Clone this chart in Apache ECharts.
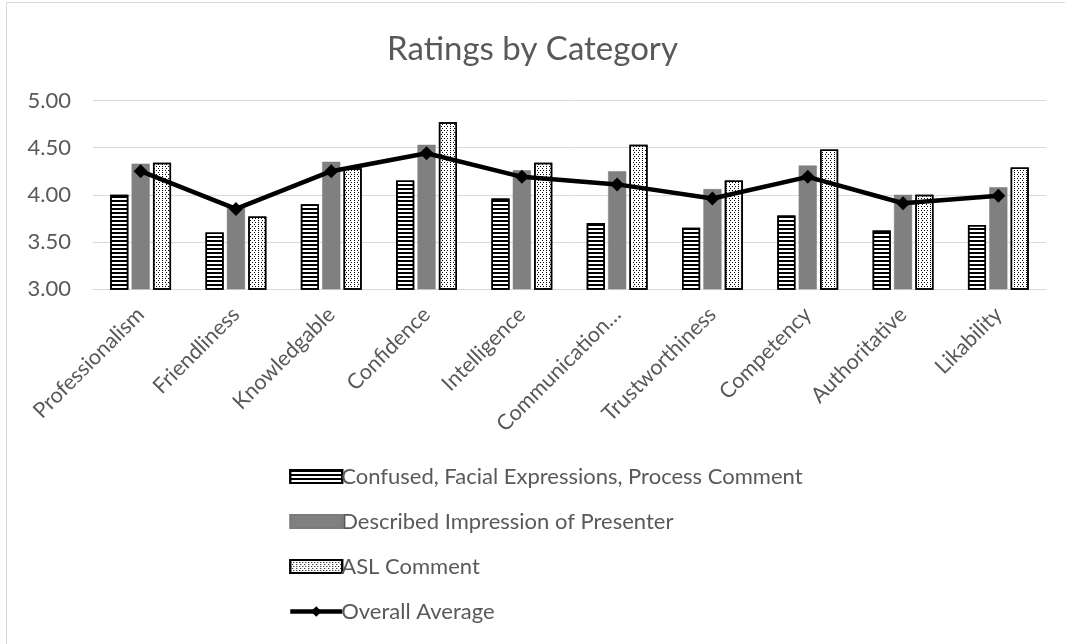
<!DOCTYPE html>
<html><head><meta charset="utf-8">
<script src="https://cdn.jsdelivr.net/npm/echarts@6/dist/echarts.min.js"></script>
<style>html,body{margin:0;padding:0;background:#fff}#c{width:1065px;height:644px}</style>
</head><body><div id="c"></div>
<script>
var categories = ["Professionalism","Friendliness","Knowledgable","Confidence","Intelligence","Communication…","Trustworthiness","Competency","Authoritative","Likability"];
var confusedValues = [4.00,3.60,3.90,4.15,3.96,3.70,3.65,3.78,3.62,3.68];
var describedValues = [4.33,3.87,4.35,4.53,4.26,4.25,4.06,4.31,4.00,4.08];
var aslValues = [4.34,3.77,4.28,4.77,4.34,4.53,4.15,4.48,4.00,4.29];
var averageValues = [4.25,3.85,4.25,4.44,4.19,4.11,3.96,4.19,3.91,3.99];
var seriesNames = ["Confused, Facial Expressions, Process Comment","Described Impression of Presenter","ASL Comment","Overall Average"];
var yTicks = {min:3, max:5, interval:0.5};

var font = 'Lato, "Open Sans", sans-serif';
var chart = echarts.init(document.getElementById('c'), null, {renderer:'canvas'});
chart.setOption({
  animation:false,
  backgroundColor:'#fff',
  title:{text:'Ratings by Category', left:'center', top:28,
    textStyle:{fontFamily:font, fontSize:33, fontWeight:'normal', color:'#595959'}},
  graphic:[
    {type:'line', shape:{x1:6.5,y1:2.5,x2:6.5,y2:644}, style:{stroke:'#d9d9d9',lineWidth:1}},
    {type:'line', shape:{x1:6.5,y1:2.5,x2:1065,y2:2.5}, style:{stroke:'#d9d9d9',lineWidth:1}}
  ],
  grid:{left:93, right:19, top:100.5, bottom:355, containLabel:false},
  legend:{orient:'vertical', left:283, top:460, itemGap:22, itemWidth:52, itemHeight:13,
    textStyle:{fontFamily:font, fontSize:22, lineHeight:23, color:'#595959', padding:[0,0,0,-6]},
    data:[
      {name:seriesNames[0], icon:'rect'},
      {name:seriesNames[1], icon:'rect'},
      {name:seriesNames[2], icon:'rect'},
      {name:seriesNames[3], lineStyle:{width:4.5}}
    ]},
  xAxis:{type:'category', data:categories,
    axisLine:{lineStyle:{color:'#d9d9d9', width:1}}, axisTick:{show:false},
    axisLabel:{rotate:45, interval:0, margin:22, fontFamily:font, fontSize:21.5, color:'#595959'}},
  yAxis:{type:'value', min:yTicks.min, max:yTicks.max, interval:yTicks.interval,
    axisLine:{show:false}, axisTick:{show:false},
    splitLine:{lineStyle:{color:'#d9d9d9', width:1}},
    axisLabel:{margin:22, fontFamily:font, fontSize:22, color:'#595959',
      formatter:function(v){return v.toFixed(2);}}},
  series:[
    {name:seriesNames[0], type:'bar', data:confusedValues, barWidth:'19%', barGap:'18%',
      itemStyle:{color:'#ffffff', borderColor:'#000', borderWidth:1.5,
        decal:{symbol:'rect', symbolSize:1, dashArrayX:[1,0], dashArrayY:[2,2], color:'#000', rotation:0}}},
    {name:seriesNames[1], type:'bar', data:describedValues, barWidth:'19%', barGap:'18%',
      itemStyle:{color:'#808080', borderColor:'#7a7a7a', borderWidth:0.5}},
    {name:seriesNames[2], type:'bar', data:aslValues, barWidth:'19%', barGap:'18%',
      itemStyle:{color:'#ffffff', borderColor:'#000', borderWidth:1.5,
        decal:{symbol:'rect', symbolSize:1, dashArrayX:[[1,1.5],[0,1.25,1,0.25]], dashArrayY:[1,0.8], color:'#000', rotation:0}}},
    {name:seriesNames[3], type:'line', data:averageValues, symbol:'diamond', symbolSize:[14,14],
      z:10, lineStyle:{color:'#000', width:4.5}, itemStyle:{color:'#000'}}
  ]
});
</script></body></html>
